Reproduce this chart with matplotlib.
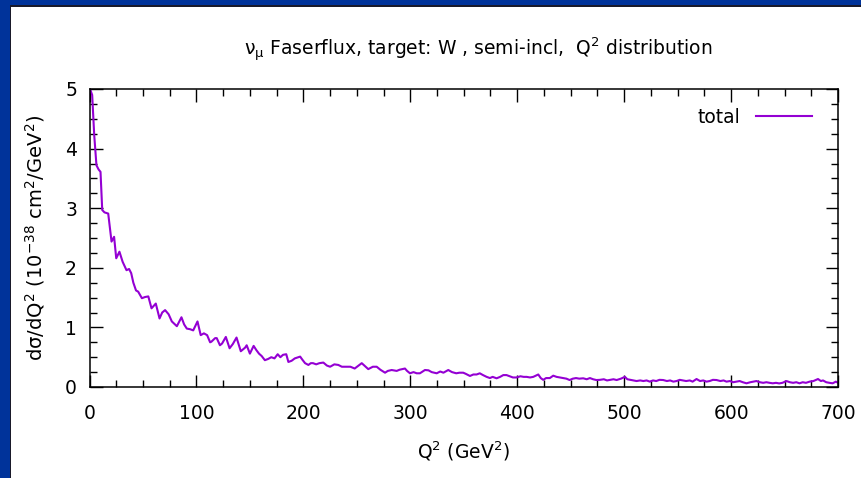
import matplotlib
matplotlib.use("Agg")
import matplotlib.pyplot as plt
from matplotlib.patches import Rectangle
from matplotlib.ticker import MultipleLocator

plt.rcParams['font.family'] = ['DejaVu Sans']
plt.rcParams['mathtext.fontset'] = 'custom'
plt.rcParams['mathtext.rm'] = 'DejaVu Sans'
plt.rcParams['mathtext.default'] = 'regular'

# Q^2 bin centres (GeV^2) and differential cross section (1e-38 cm^2/GeV^2)
q2 = [0, 0.5, 2.5, 4.4, 6.5, 8.5, 10.3, 11.9, 14, 17.5, 20.6, 23, 25, 28, 31,
      34.6, 37, 39, 41, 43.5, 45.5, 49, 52, 55, 58, 62, 65.5, 68, 70.7, 74,
      77, 81.7, 86, 88.5, 91, 94, 97, 101, 104, 107, 110, 112.8, 114, 117.5,
      119, 122, 124, 127.5, 131, 134, 137.5, 141.5, 145.5, 147, 150, 153.5,
      156, 158.5, 161, 164, 167, 170, 173, 176, 178.5, 181, 184, 186, 189,
      192, 197, 199, 201.6, 204.7, 207, 209, 212, 215, 218.7, 222, 225, 229,
      232.7, 236, 240.5, 244, 248, 251, 254.6, 257, 260.7, 265, 268.6, 272,
      276.4, 279, 282.6, 287.3, 290, 295, 297, 299.7, 303, 306, 309, 313.7,
      317, 320, 324.7, 328, 331, 335.5, 339, 343, 346, 349.5, 352, 355.8, 359,
      362, 365, 368, 371.4, 374.5, 377, 380.7, 384, 387, 390, 393, 396, 399.4,
      403, 406, 408.8, 412, 415, 419.7, 422, 424.3, 427, 430.5, 433.7, 436.8,
      440, 443, 446, 449, 452, 455, 458, 461.7, 465, 468, 471, 474, 477.3,
      481, 484, 487, 490, 493, 497, 500.7, 503, 506, 509, 511.6, 515, 518,
      521, 524, 527, 530, 533, 536.5, 540, 543, 546, 549, 552, 555, 558,
      561.4, 564, 567.7, 571, 574, 577, 580, 583, 586.4, 590, 593, 595.7, 599,
      602, 605, 608, 611, 614.4, 618, 621, 623.7, 627, 630, 633, 636, 639,
      642, 645, 648, 651.8, 655, 658, 661, 664, 667, 670, 673.5, 677, 681.3,
      684, 686, 689, 692, 695, 698, 700]
dsigma = [5.05, 5.0, 4.90, 4.23, 3.72, 3.65, 3.61, 2.97, 2.93, 2.91, 2.44, 2.52,
          2.16, 2.27, 2.10, 1.96, 1.98, 1.91, 1.75, 1.62, 1.60, 1.49, 1.51,
          1.52, 1.32, 1.40, 1.15, 1.25, 1.29, 1.22, 1.10, 1.02, 1.17, 1.05,
          0.98, 0.97, 0.95, 1.10, 0.87, 0.90, 0.87, 0.75, 0.76, 0.82, 0.82,
          0.70, 0.73, 0.84, 0.65, 0.72, 0.83, 0.60, 0.66, 0.70, 0.56, 0.69,
          0.62, 0.56, 0.52, 0.45, 0.47, 0.50, 0.48, 0.55, 0.50, 0.54, 0.55,
          0.42, 0.44, 0.48, 0.51, 0.46, 0.40, 0.37, 0.40, 0.40, 0.38, 0.40,
          0.41, 0.36, 0.34, 0.38, 0.37, 0.34, 0.34, 0.34, 0.31, 0.35, 0.40,
          0.36, 0.30, 0.34, 0.34, 0.29, 0.24, 0.27, 0.285, 0.27, 0.29, 0.31,
          0.27, 0.23, 0.25, 0.23, 0.23, 0.285, 0.28, 0.25, 0.23, 0.26, 0.24,
          0.285, 0.25, 0.23, 0.24, 0.24, 0.22, 0.185, 0.21, 0.21, 0.23, 0.20,
          0.17, 0.15, 0.17, 0.146, 0.17, 0.20, 0.20, 0.18, 0.16, 0.16, 0.18,
          0.17, 0.17, 0.16, 0.17, 0.21, 0.15, 0.12, 0.15, 0.15, 0.19, 0.17,
          0.16, 0.15, 0.14, 0.117, 0.14, 0.15, 0.14, 0.146, 0.13, 0.15, 0.13,
          0.117, 0.12, 0.13, 0.11, 0.12, 0.13, 0.117, 0.14, 0.17, 0.13, 0.12,
          0.11, 0.10, 0.11, 0.10, 0.11, 0.09, 0.11, 0.10, 0.12, 0.117, 0.10,
          0.11, 0.09, 0.10, 0.12, 0.11, 0.10, 0.11, 0.09, 0.134, 0.10, 0.11,
          0.09, 0.10, 0.12, 0.117, 0.10, 0.11, 0.09, 0.10, 0.08, 0.09, 0.10,
          0.08, 0.062, 0.08, 0.09, 0.10, 0.08, 0.07, 0.08, 0.07, 0.062, 0.07,
          0.06, 0.07, 0.10, 0.08, 0.07, 0.08, 0.062, 0.08, 0.07, 0.09, 0.10,
          0.134, 0.10, 0.11, 0.08, 0.07, 0.062, 0.09, 0.07]

x_ticks = [0, 100, 200, 300, 400, 500, 600, 700]
y_ticks = [0, 1, 2, 3, 4, 5]
line_color = '#9400D3'
frame_blue = '#00339A'

fig = plt.figure(figsize=(8.62, 4.78), dpi=100, facecolor='white')

# slide frame: blue strips along the left and top edges
W, H = 862, 478
fig.patches.append(Rectangle((0, 0), 10 / W, 1, transform=fig.transFigure,
                             facecolor=frame_blue, edgecolor='none', zorder=0))
fig.patches.append(Rectangle((0, 1 - 5 / H), 1, 5 / H, transform=fig.transFigure,
                             facecolor=frame_blue, edgecolor='none', zorder=0))
fig.patches.append(Rectangle((10 / W, 0), 1.5 / W, 1 - 5 / H, transform=fig.transFigure,
                             facecolor='#1a1a2a', edgecolor='none', zorder=0))
fig.patches.append(Rectangle((10 / W, 1 - 6.5 / H), 1 - 10 / W, 1.5 / H,
                             transform=fig.transFigure,
                             facecolor='#1a1a2a', edgecolor='none', zorder=0))

ax = fig.add_axes([89.5 / W, 1 - 387 / H, (838 - 89.5) / W, (387 - 89) / H])
ax.plot(q2, dsigma, color=line_color, lw=1.5, label='total')

ax.set_xlim(0, 700)
ax.set_ylim(0, 5)
ax.set_xticks(x_ticks)
ax.set_yticks(y_ticks)
ax.xaxis.set_minor_locator(MultipleLocator(25))
ax.yaxis.set_minor_locator(MultipleLocator(0.25))
ax.tick_params(which='both', direction='in', top=True, right=True,
               labelsize=13.5, colors='black', width=1.0)
ax.tick_params(axis='x', which='major', length=9, pad=12)
ax.tick_params(axis='y', which='major', length=9, pad=9)
ax.tick_params(which='minor', length=5)
for s in ax.spines.values():
    s.set_linewidth(1.1)

ax.set_xlabel('Q$^{2}$ (GeV$^{2}$)', fontsize=13.5, labelpad=12)
ax.set_ylabel('dσ/dQ$^{2}$ (10$^{-38}$ cm$^{2}$/GeV$^{2}$)', fontsize=14, labelpad=13)
ax.set_title('ν$_{μ}$ Faserflux, target: W , semi-incl,  Q$^{2}$ distribution',
             fontsize=13.5, pad=24, x=0.52)

leg = ax.legend(loc='upper right', frameon=False, fontsize=13.5, handlelength=3.0,
                markerfirst=False, borderaxespad=0.6, handletextpad=0.8,
                bbox_to_anchor=(0.99, 1.0))

fig.savefig('out.png', dpi=100, facecolor='white')
